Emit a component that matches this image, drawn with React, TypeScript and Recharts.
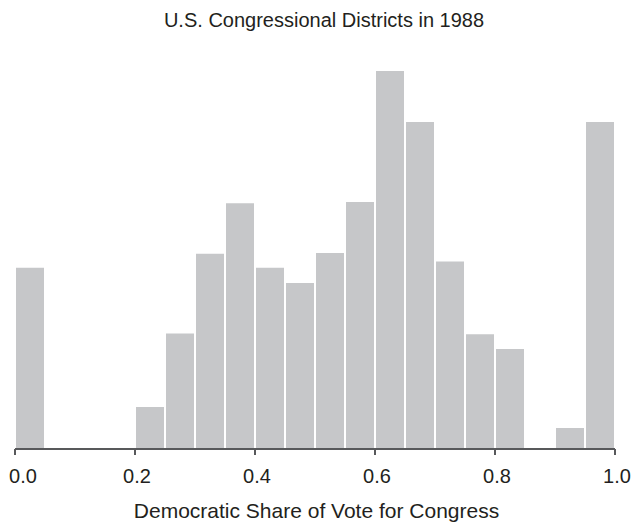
import { Bar, BarChart, XAxis, YAxis } from 'recharts';

// histogram bins (midpoints of 0.05-wide bins) and district counts
const binMids = [
  0.025, 0.075, 0.125, 0.175, 0.225, 0.275, 0.325, 0.375, 0.425, 0.475,
  0.525, 0.575, 0.625, 0.675, 0.725, 0.775, 0.825, 0.875, 0.925, 0.975,
];
const districts = [
  25.9, 0, 0, 0, 6, 16.5, 27.9, 35.1, 25.9, 23.7,
  28, 35.3, 54, 46.7, 26.8, 16.4, 14.3, 0, 3, 46.7,
];
const xTicks = [0, 0.2, 0.4, 0.6, 0.8, 1.0];
const xTickLabels = ['0.0', '0.2', '0.4', '0.6', '0.8', '1.0'];

const data = binMids.map((mid, i) => ({ mid, count: districts[i] }));

const FONT = '"Liberation Sans", Arial, Helvetica, sans-serif';
const TEXT = '#231f20';

function ShareTick(props: any) {
  const { x, y, payload, index } = props;
  const i = xTicks.indexOf(payload.value);
  return (
    <text
      x={x + (index === 0 ? 8 : 2)}
      y={y + 26}
      textAnchor="middle"
      fontFamily={FONT}
      fontSize={20}
      fill={TEXT}
    >
      {i >= 0 ? xTickLabels[i] : payload.value}
    </text>
  );
}

function AxisTitle(props: any) {
  const { viewBox } = props;
  return (
    <text
      x={viewBox.x + viewBox.width / 2 + 1.5}
      y={518}
      textAnchor="middle"
      fontFamily={FONT}
      fontSize={21}
      fill={TEXT}
    >
      Democratic Share of Vote for Congress
    </text>
  );
}

export default function App() {
  return (
    <div style={{ position: 'absolute', left: 0, top: 0, width: 633, height: 525, background: '#fff' }}>
      <div
        style={{
          position: 'absolute',
          top: 10,
          left: 0,
          width: 648,
          textAlign: 'center',
          fontFamily: FONT,
          fontSize: 20,
          lineHeight: '20px',
          color: TEXT,
        }}
      >
        U.S. Congressional Districts in 1988
      </div>
      <BarChart
        width={633}
        height={525}
        data={data}
        margin={{ top: 71, right: 18, bottom: 0, left: 15 }}
        barCategoryGap={1}
      >
        <XAxis
          type="number"
          dataKey="mid"
          domain={[0, 1]}
          ticks={xTicks}
          height={76}
          axisLine={{ stroke: '#58595b', strokeWidth: 2 }}
          tickLine={{ stroke: '#58595b', strokeWidth: 2 }}
          tickSize={6}
          tick={<ShareTick />}
          label={<AxisTitle />}
          interval={0}
        />
        <YAxis hide domain={[0, 54]} />
        <Bar dataKey="count" fill="#c6c7c9" isAnimationActive={false} />
      </BarChart>
    </div>
  );
}
